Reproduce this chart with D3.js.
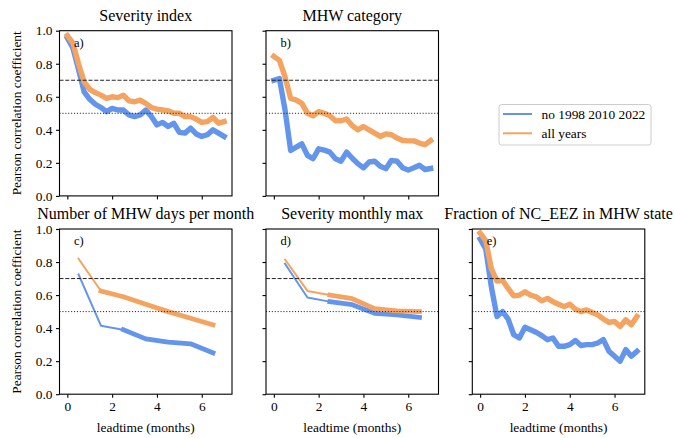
<!DOCTYPE html>
<html><head><meta charset="utf-8">
<script src="https://cdn.jsdelivr.net/npm/d3@7"></script>
<style>
html,body{margin:0;padding:0;background:#fff;}
svg{display:block;font-family:"Liberation Serif","Times New Roman",serif;}
</style></head>
<body><svg id="chart" width="674" height="438"></svg>
<script>
// ---- data ----
const leadDense = [0,0.25,0.5,0.75,1,1.25,1.5,1.75,2,2.25,2.5,2.75,3,3.25,3.5,3.75,4,4.25,4.5,4.75,5,5.25,5.5,5.75,6,6.25,6.5,6.75,7];
const leadMonthly = [0.5,1.5,2.5,3.5,4.5,5.5,6.5];
const seriesNames = ["no 1998 2010 2022","all years"];
const titles = ["Severity index","MHW category","Number of MHW days per month","Severity monthly max","Fraction of NC_EEZ in MHW state"];
const panelLabels = ["a)","b)","c)","d)","e)"];
const yTicks = [0,0.2,0.4,0.6,0.8,1.0];
const xTicks = [0,2,4,6];
const refLines = [0.7,0.5];

const severityNo  = [0.955,0.895,0.765,0.63,0.585,0.555,0.535,0.51,0.53,0.52,0.52,0.49,0.48,0.49,0.52,0.48,0.43,0.445,0.42,0.44,0.385,0.38,0.41,0.375,0.36,0.37,0.40,0.38,0.36];
const severityAll = [0.97,0.925,0.80,0.69,0.645,0.625,0.61,0.59,0.60,0.595,0.61,0.575,0.57,0.58,0.56,0.535,0.525,0.52,0.515,0.50,0.50,0.48,0.48,0.465,0.445,0.45,0.475,0.44,0.45];
const categoryNo  = [0.70,0.71,0.52,0.275,0.295,0.315,0.245,0.225,0.285,0.277,0.265,0.225,0.21,0.265,0.228,0.195,0.17,0.205,0.21,0.18,0.165,0.215,0.21,0.17,0.156,0.17,0.185,0.16,0.166];
const categoryAll = [0.845,0.82,0.72,0.59,0.58,0.56,0.50,0.485,0.51,0.50,0.485,0.455,0.455,0.465,0.425,0.40,0.42,0.40,0.38,0.36,0.375,0.37,0.35,0.335,0.333,0.333,0.32,0.31,0.335];
const daysNo  = [0.725,0.415,0.39,0.335,0.315,0.305,0.25];
const daysAll = [0.82,0.625,0.59,0.545,0.50,0.46,0.42];
const maxNo   = [0.79,0.585,0.56,0.542,0.49,0.48,0.465];
const maxAll  = [0.815,0.625,0.60,0.578,0.518,0.505,0.50];
const fractionNo  = [0.94,0.88,0.65,0.47,0.50,0.455,0.36,0.34,0.405,0.39,0.375,0.355,0.33,0.34,0.29,0.29,0.30,0.325,0.295,0.30,0.30,0.31,0.33,0.26,0.23,0.20,0.27,0.23,0.26];
const fractionAll = [0.975,0.93,0.76,0.685,0.69,0.64,0.595,0.60,0.62,0.60,0.59,0.565,0.58,0.56,0.545,0.53,0.545,0.515,0.50,0.51,0.495,0.48,0.455,0.435,0.44,0.41,0.45,0.42,0.47];

// ---- layout ----
const colors = ["#6495ED","#F4A460"];
const W = 172.5, H = 165.2;
const panels = [
  {left:59.5, top:30.7, lead:leadDense, vals:[severityNo,severityAll], thick:[0,0], xl:false, yl:true},
  {left:266,  top:30.7, lead:leadDense, vals:[categoryNo,categoryAll], thick:[0,0], xl:false, yl:false},
  {left:59.5, top:229,  lead:leadMonthly, vals:[daysNo,daysAll], thick:[2,1], xl:true, yl:true},
  {left:266,  top:229,  lead:leadMonthly, vals:[maxNo,maxAll], thick:[2,2], xl:true, yl:false},
  {left:472.3,top:229,  lead:leadDense, vals:[fractionNo,fractionAll], thick:[0,0], xl:true, yl:false}
];

const svg = d3.select("#chart");
const x = d3.scaleLinear().domain([-0.35,7.35]).range([0,W]);
const y = d3.scaleLinear().domain([0,1]).range([H,0]);

panels.forEach((p,i)=>{
  const g = svg.append("g").attr("transform",`translate(${p.left},${p.top})`);
  const line = d3.line().x(d=>x(d[0])).y(d=>y(d[1]));
  p.vals.forEach((vals,s)=>{
    const pts = p.lead.map((l,k)=>[l,vals[k]]);
    const t = p.thick[s];
    if(t>0){
      g.append("path").attr("d",line(pts.slice(0,t+1))).attr("fill","none")
        .attr("stroke",colors[s]).attr("stroke-width",2).attr("stroke-linejoin","round").attr("stroke-linecap","square");
    }
    g.append("path").attr("d",line(pts.slice(t))).attr("fill","none")
      .attr("stroke",colors[s]).attr("stroke-width",t>0?4.8:5.4).attr("stroke-linejoin","round").attr("stroke-linecap","square");
  });
  refLines.forEach((v,k)=>{
    g.append("line").attr("x1",0).attr("x2",W).attr("y1",y(v)).attr("y2",y(v))
      .attr("stroke","#222").attr("stroke-width",1)
      .attr("stroke-dasharray", k===0 ? "4,1.8" : "1.1,1.8");
  });
  const xa = d3.axisBottom(x).tickValues(xTicks).tickSize(3.5).tickPadding(4).tickFormat(p.xl?d3.format("d"):"");
  const ya = d3.axisLeft(y).tickValues(yTicks).tickSize(3.5).tickPadding(3.5).tickFormat(p.yl?d3.format(".1f"):"");
  const gx = g.append("g").attr("transform",`translate(0,${H})`).call(xa);
  const gy = g.append("g").call(ya);
  [gx,gy].forEach(a=>{
    a.attr("font-family",null);
    a.select(".domain").remove();
    a.selectAll(".tick line").attr("stroke","#000").attr("stroke-width",1.1);
    a.selectAll(".tick text").attr("font-family","Liberation Serif").attr("font-size",13.4).attr("fill","#000");
  });
  g.append("rect").attr("x",0).attr("y",0).attr("width",W).attr("height",H)
    .attr("fill","none").attr("stroke","#000").attr("stroke-width",1.1);
  g.append("text").attr("x",W/2).attr("y",-10).attr("text-anchor","middle")
    .attr("font-size",16).text(titles[i]);
  g.append("text").attr("x",14.5).attr("y",16).attr("font-size",12.5).text(panelLabels[i]);
  if(p.yl){
    g.append("text").attr("transform",`translate(${21-p.left},${H/2}) rotate(-90)`)
      .attr("text-anchor","middle").attr("font-size",13.4).text("Pearson correlation coefficient");
  }
  if(p.xl){
    g.append("text").attr("x",W/2).attr("y",H+37.5).attr("text-anchor","middle")
      .attr("font-size",13.4).text("leadtime (months)");
  }
});

// legend
const lg = svg.append("g").attr("transform","translate(499,104.5)");
lg.append("rect").attr("width",152).attr("height",40.5).attr("rx",2.5)
  .attr("fill","#fff").attr("fill-opacity",0.8).attr("stroke","#ccc").attr("stroke-width",1);
seriesNames.forEach((n,s)=>{
  const yy = 9.5 + s*19.3;
  lg.append("line").attr("x1",4).attr("x2",33).attr("y1",yy).attr("y2",yy)
    .attr("stroke",colors[s]).attr("stroke-width",2);
  lg.append("text").attr("x",42.5).attr("y",yy+4.5).attr("font-size",13.4).text(n);
});
</script></body></html>
